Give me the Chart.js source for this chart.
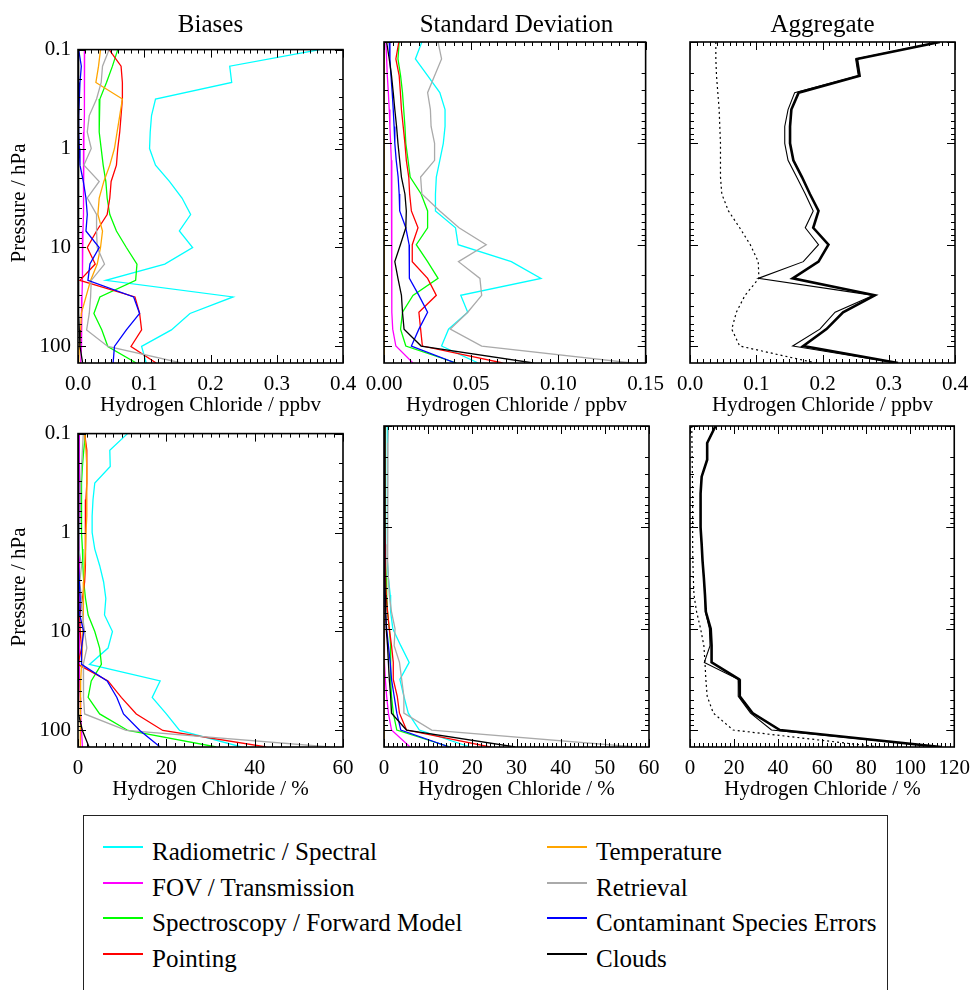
<!DOCTYPE html>
<html>
<head>
<meta charset="utf-8">
<script src="https://cdn.jsdelivr.net/npm/chart.js@4.4.1/dist/chart.umd.min.js"></script>
<style>
  body { margin: 0; background: #fff; width: 972px; height: 990px; position: relative; overflow: hidden;
         font-family: "Liberation Serif", "DejaVu Serif", serif; color: #000; }
  .pane { position: absolute; }
  .txt { position: absolute; white-space: nowrap; line-height: 1; }
  .legend { position: absolute; left: 83px; top: 815px; width: 805px; height: 200px;
            border: 1.5px solid #222; box-sizing: border-box; }
  .swatch { position: absolute; width: 40px; height: 0; border-top: 2px solid; }
</style>
</head>
<body>

<script>
// pressure levels (hPa), top of atmosphere first
const pressure = [0.1, 0.147, 0.215, 0.316, 0.464, 0.681, 1.0, 1.47, 2.15, 3.16,
                  4.64, 6.81, 10.0, 14.7, 21.5, 31.6, 46.4, 68.1, 100, 147];

const sources = ['Radiometric / Spectral', 'FOV / Transmission', 'Spectroscopy / Forward Model', 'Pointing',
                 'Temperature', 'Retrieval', 'Contaminant Species Errors', 'Clouds'];
const colors = ['#00ffff', '#ff00ff', '#00ff00', '#ff0000', '#ffa500', '#aaaaaa', '#0000ff', '#000000'];

// one row per source, same order as `sources`
const biasPpbv = [
  [0.365, 0.229, 0.232, 0.117, 0.111, 0.109, 0.108, 0.117, 0.138, 0.157, 0.170, 0.153, 0.173, 0.131, 0.042, 0.234, 0.169, 0.141, 0.096, 0.103],
  [0.010, 0.010, 0.0098, 0.0095, 0.0093, 0.009, 0.0088, 0.0086, 0.0084, 0.008, 0.0078, 0.0075, 0.007, 0.0067, 0.0063, 0.006, 0.0057, 0.0053, 0.005, 0.004],
  [0.060, 0.052, 0.043, 0.033, 0.032, 0.032, 0.035, 0.038, 0.042, 0.044, 0.048, 0.058, 0.073, 0.089, 0.087, 0.033, 0.024, 0.036, 0.045, 0.088],
  [0.047, 0.065, 0.067, 0.067, 0.065, 0.063, 0.060, 0.058, 0.050, 0.048, 0.044, 0.028, 0.014, 0.026, 0.003, 0.086, 0.093, 0.096, 0.080, 0.118],
  [0.034, 0.031, 0.027, 0.067, 0.063, 0.059, 0.055, 0.048, 0.039, 0.032, 0.030, 0.037, 0.034, 0.029, 0.019, 0.012, 0.005, 0.004, 0.002, 0.001],
  [0.047, 0.037, 0.035, 0.028, 0.017, 0.014, 0.020, 0.009, 0.032, 0.014, 0.028, 0.028, 0.029, 0.040, 0.020, 0.019, 0.017, 0.013, 0.045, 0.156],
  [0.001, 0.005, 0.003, 0.002, 0.001, 0.001, 0.002, 0.003, 0.008, 0.012, 0.014, 0.012, 0.032, 0.018, 0.015, 0.084, 0.093, 0.073, 0.055, 0.053],
  [0.001, 0.001, 0.001, 0.001, 0.001, 0.001, 0.001, 0.001, 0.001, 0.001, 0.001, 0.001, 0.001, 0.001, 0.001, 0.001, 0.001, 0.002, 0.003, 0.007]
];

const sdPpbv = [
  [0.0217, 0.018, 0.025, 0.032, 0.035, 0.035, 0.034, 0.032, 0.030, 0.0295, 0.0295, 0.041, 0.0425, 0.073, 0.090, 0.044, 0.048, 0.037, 0.033, 0.054],
  [0.0011, 0.0015, 0.0019, 0.0025, 0.003, 0.0034, 0.0038, 0.0042, 0.0043, 0.0045, 0.0045, 0.0045, 0.0045, 0.0045, 0.0045, 0.0045, 0.0045, 0.005, 0.0068, 0.0166],
  [0.0087, 0.008, 0.0095, 0.0106, 0.0113, 0.012, 0.0125, 0.0138, 0.015, 0.0213, 0.025, 0.025, 0.0185, 0.025, 0.031, 0.0166, 0.0106, 0.0095, 0.0125, 0.0416],
  [0.0085, 0.0068, 0.0087, 0.0094, 0.010, 0.011, 0.012, 0.0128, 0.0142, 0.0147, 0.0157, 0.0195, 0.0162, 0.0162, 0.025, 0.030, 0.020, 0.021, 0.022, 0.068],
  [0.0002, 0.0002, 0.0002, 0.0002, 0.0002, 0.0002, 0.0002, 0.0002, 0.0002, 0.0002, 0.0002, 0.0002, 0.0002, 0.0002, 0.0002, 0.0002, 0.0002, 0.0002, 0.0002, 0.0002],
  [0.031, 0.033, 0.029, 0.025, 0.0266, 0.027, 0.029, 0.029, 0.021, 0.0217, 0.032, 0.043, 0.0586, 0.0427, 0.055, 0.056, 0.048, 0.038, 0.056, 0.142],
  [0.003, 0.0034, 0.004, 0.0047, 0.0053, 0.0058, 0.0062, 0.007, 0.0081, 0.0087, 0.009, 0.0125, 0.0144, 0.0147, 0.0144, 0.020, 0.025, 0.020, 0.0157, 0.041],
  [0.0015, 0.003, 0.0043, 0.0053, 0.0062, 0.0072, 0.008, 0.009, 0.010, 0.012, 0.0128, 0.0125, 0.0094, 0.0062, 0.008, 0.010, 0.0106, 0.0115, 0.0213, 0.0856]
];

// aggregate: total (thick), second total (thin), dotted
const aggPpbv = [
  [0.377, 0.252, 0.256, 0.164, 0.153, 0.151, 0.151, 0.156, 0.169, 0.181, 0.194, 0.186, 0.209, 0.194, 0.155, 0.279, 0.231, 0.206, 0.171, 0.314],
  [0.377, 0.250, 0.254, 0.158, 0.148, 0.143, 0.143, 0.148, 0.161, 0.174, 0.186, 0.174, 0.194, 0.171, 0.103, 0.277, 0.219, 0.196, 0.155, 0.312],
  [0.039, 0.039, 0.040, 0.042, 0.044, 0.045, 0.046, 0.046, 0.046, 0.048, 0.058, 0.075, 0.091, 0.103, 0.104, 0.083, 0.070, 0.063, 0.075, 0.190]
];

const biasPct = [
  [11.2, 7.2, 7.3, 3.8, 3.4, 3.2, 3.2, 3.8, 4.9, 5.8, 6.3, 6.0, 7.8, 6.8, 2.6, 18.6, 16.8, 20.0, 23.0, 37.0],
  [0.3, 0.3, 0.3, 0.3, 0.3, 0.3, 0.3, 0.3, 0.3, 0.3, 0.3, 0.3, 0.3, 0.3, 0.3, 0.4, 0.5, 0.6, 0.8, 1.0],
  [1.7, 1.3, 1.0, 0.8, 0.8, 0.8, 0.8, 1.0, 1.1, 1.3, 1.7, 2.3, 3.8, 4.9, 5.3, 3.0, 2.3, 4.9, 11.3, 31.3],
  [1.5, 2.0, 2.0, 2.0, 1.8, 1.7, 1.7, 1.7, 1.6, 1.5, 1.0, 0.4, 0.5, 0.8, 0.0, 6.8, 9.8, 13.2, 19.2, 42.6],
  [1.5, 1.8, 2.0, 2.0, 2.0, 2.0, 1.8, 1.7, 1.5, 1.3, 1.2, 1.2, 1.1, 1.0, 0.8, 0.6, 0.5, 0.5, 0.5, 0.6],
  [1.2, 1.0, 0.8, 0.6, 0.5, 0.5, 0.3, 0.2, 0.8, 0.4, 0.8, 1.0, 1.5, 2.0, 1.2, 1.2, 1.3, 1.5, 10.9, 57.0],
  [0.1, 0.1, 0.1, 0.1, 0.1, 0.1, 0.1, 0.1, 0.2, 0.3, 0.5, 0.4, 1.3, 0.8, 0.8, 6.6, 8.8, 10.3, 14.0, 18.6],
  [0.1, 0.1, 0.1, 0.1, 0.1, 0.1, 0.1, 0.1, 0.1, 0.1, 0.1, 0.1, 0.1, 0.1, 0.1, 0.1, 0.1, 0.1, 1.0, 2.5]
];

const sdPct = [
  [0.8, 0.7, 0.7, 0.7, 0.7, 0.7, 0.8, 0.8, 0.9, 1.0, 1.4, 1.5, 2.0, 3.8, 5.7, 3.6, 4.5, 5.5, 8.0, 19.5],
  [0.1, 0.1, 0.1, 0.1, 0.1, 0.1, 0.1, 0.1, 0.1, 0.1, 0.1, 0.1, 0.1, 0.1, 0.1, 0.3, 0.6, 1.0, 1.7, 5.9],
  [0.3, 0.3, 0.3, 0.3, 0.3, 0.3, 0.3, 0.3, 0.4, 0.5, 0.6, 0.8, 1.2, 1.5, 1.5, 1.5, 1.7, 2.1, 2.9, 15.0],
  [0.2, 0.2, 0.2, 0.2, 0.2, 0.2, 0.2, 0.3, 0.3, 0.4, 0.5, 0.8, 1.2, 1.7, 2.1, 2.1, 3.0, 3.5, 5.1, 24.0],
  [0.05, 0.05, 0.05, 0.05, 0.05, 0.05, 0.05, 0.05, 0.05, 0.05, 0.05, 0.05, 0.05, 0.05, 0.05, 0.05, 0.05, 0.05, 0.05, 0.05],
  [1.0, 0.9, 0.9, 0.8, 0.8, 0.8, 0.8, 0.8, 0.9, 1.0, 1.2, 1.7, 2.5, 2.3, 3.5, 4.0, 4.5, 4.5, 10.8, 57.0],
  [0.1, 0.1, 0.1, 0.1, 0.1, 0.1, 0.1, 0.1, 0.1, 0.1, 0.2, 0.3, 0.6, 1.0, 1.4, 1.7, 2.3, 2.9, 3.8, 14.8],
  [0.2, 0.2, 0.2, 0.2, 0.2, 0.2, 0.2, 0.2, 0.2, 0.2, 0.3, 0.4, 0.5, 0.8, 1.0, 1.2, 1.5, 1.7, 5.1, 29.7]
];

const aggPct = [
  [11.6, 7.8, 7.8, 5.3, 4.8, 4.8, 4.8, 5.3, 5.7, 6.3, 6.8, 7.2, 9.4, 9.8, 9.8, 22.3, 22.6, 28.4, 40.8, 114],
  [11.6, 7.8, 7.8, 5.3, 4.8, 4.8, 4.8, 5.3, 5.7, 6.3, 6.8, 7.0, 8.8, 9.1, 6.5, 21.9, 21.9, 27.5, 37.0, 114],
  [0.8, 0.9, 1.0, 1.1, 1.2, 1.2, 1.2, 1.2, 1.3, 1.5, 1.8, 3.0, 4.8, 6.3, 6.8, 7.2, 7.8, 10.6, 19.6, 86]
];

// axis ticks
const yTicks = [0.1, 1, 10, 100];
const yTickLabels = ['0.1', '1', '10', '100'];
const xTicksBiasPpbv = [0, 0.1, 0.2, 0.3, 0.4];
const xTicksSdPpbv = [0, 0.05, 0.10, 0.15];
const xTicksAggPpbv = [0, 0.1, 0.2, 0.3, 0.4];
const xTicksBiasPct = [0, 20, 40, 60];
const xTicksSdPct = [0, 10, 20, 30, 40, 50, 60];
const xTicksAggPct = [0, 20, 40, 60, 80, 100, 120];

const colTitles = ['Biases', 'Standard Deviation', 'Aggregate'];

// ---- layout ----
const colLeft = [78, 384, 690];
const rowTop = [42, 426];
const plotW = 265, plotH = 321;
const padL = 70, padT = 12, padR = 24, padB = 30;
const serif = '"Liberation Serif", "DejaVu Serif", serif';

function addText(str, x, y, size, center) {
  const d = document.createElement('div');
  d.className = 'txt';
  d.textContent = str;
  d.style.fontSize = size + 'px';
  d.style.top = y + 'px';
  if (center) { d.style.left = x + 'px'; d.style.transform = 'translateX(-50%)'; }
  else d.style.left = x + 'px';
  document.body.appendChild(d);
  return d;
}

// inward IDL-style ticks on all four sides plus the box
const idlFrame = {
  id: 'idlFrame',
  afterDatasetsDraw(chart, args, opts) {
    const { ctx, chartArea: a, scales: { x, y } } = chart;
    ctx.save();
    ctx.strokeStyle = '#000';
    ctx.lineWidth = 1;
    ctx.beginPath();
    const n = Math.round((x.max - x.min) / opts.minor);
    for (let k = 0; k <= n; k++) {
      const px = Math.round(x.getPixelForValue(x.min + k * opts.minor)) + 0.5;
      const len = (k % opts.per === 0) ? 8 : 4;
      ctx.moveTo(px, a.bottom); ctx.lineTo(px, a.bottom - len);
      ctx.moveTo(px, a.top); ctx.lineTo(px, a.top + len);
    }
    for (let d = -1; d <= 2; d++) {
      for (let m = 1; m <= 9; m++) {
        const v = m * Math.pow(10, d);
        if (v < y.min - 1e-9 || v > y.max) continue;
        const py = Math.round(y.getPixelForValue(v)) + 0.5;
        const len = m === 1 ? 8 : 4;
        ctx.moveTo(a.left, py); ctx.lineTo(a.left + len, py);
        ctx.moveTo(a.right, py); ctx.lineTo(a.right - len, py);
      }
    }
    ctx.stroke();
    ctx.lineWidth = 1.6;
    ctx.strokeRect(a.left, a.top, a.right - a.left, a.bottom - a.top);
    ctx.restore();
  }
};

function makePanel(row, col, series, xTicks, decimals, minor, aggregate) {
  const div = document.createElement('div');
  div.className = 'pane';
  div.style.left = (colLeft[col] - padL) + 'px';
  div.style.top = (rowTop[row] - padT) + 'px';
  const canvas = document.createElement('canvas');
  canvas.width = padL + plotW + padR;
  canvas.height = padT + plotH + padB;
  div.appendChild(canvas);
  document.body.appendChild(div);

  const aggStyles = [
    { w: 2.6, dash: [] },
    { w: 1.1, dash: [] },
    { w: 1.2, dash: [2, 3] }
  ];
  const datasets = series.map((vals, i) => {
    const st = aggregate ? aggStyles[i] : { w: 1.3, dash: [] };
    return {
      data: pressure.map((p, j) => ({ x: vals[j], y: p })),
      borderColor: aggregate ? '#000' : colors[i],
      borderWidth: st.w,
      borderDash: st.dash,
      showLine: true,
      pointRadius: 0,
      tension: 0,
      order: series.length - i
    };
  });

  const xMax = xTicks[xTicks.length - 1];
  new Chart(canvas, {
    type: 'scatter',
    data: { datasets },
    plugins: [idlFrame],
    options: {
      responsive: false,
      animation: false,
      layout: { padding: { top: padT, right: padR, left: 0, bottom: 0 } },
      plugins: {
        legend: { display: false },
        tooltip: { enabled: false },
        idlFrame: { minor: minor, per: 10 }
      },
      scales: {
        x: {
          type: 'linear', min: 0, max: xMax,
          grid: { display: false, drawTicks: false },
          border: { display: false },
          ticks: {
            color: '#000', font: { family: serif, size: 21 }, padding: 9,
            autoSkip: false, maxRotation: 0,
            callback: (v) => Number(v).toFixed(decimals)
          },
          afterBuildTicks: (s) => { s.ticks = xTicks.map(v => ({ value: v })); },
          afterFit: (s) => { s.height = padB; }
        },
        y: {
          type: 'logarithmic', reverse: true, min: 0.1, max: 147,
          grid: { display: false, drawTicks: false },
          border: { display: false },
          ticks: {
            display: col === 0,
            color: '#000', font: { family: serif, size: 21 }, padding: 7,
            callback: (v) => yTickLabels[yTicks.indexOf(v)] || ''
          },
          afterBuildTicks: (s) => { s.ticks = yTicks.map(v => ({ value: v })); },
          afterFit: (s) => { s.width = padL; }
        }
      }
    }
  });
}

makePanel(0, 0, biasPpbv, xTicksBiasPpbv, 1, 0.01, false);
makePanel(0, 1, sdPpbv, xTicksSdPpbv, 2, 0.005, false);
makePanel(0, 2, aggPpbv, xTicksAggPpbv, 1, 0.01, true);
makePanel(1, 0, biasPct, xTicksBiasPct, 0, 2, false);
makePanel(1, 1, sdPct, xTicksSdPct, 0, 1, false);
makePanel(1, 2, aggPct, xTicksAggPct, 0, 2, true);

// titles and axis labels
colTitles.forEach((t, c) => addText(t, colLeft[c] + plotW / 2, 11, 25, true));
for (let c = 0; c < 3; c++) {
  addText('Hydrogen Chloride / ppbv', colLeft[c] + plotW / 2, 394, 21, true);
  addText('Hydrogen Chloride / %', colLeft[c] + plotW / 2, 778, 21, true);
}
for (let r = 0; r < 2; r++) {
  const d = addText('Pressure / hPa', 18, rowTop[r] + plotH / 2, 21, false);
  d.style.transform = 'translate(-50%, -50%) rotate(-90deg)';
}

// legend box
const leg = document.createElement('div');
leg.className = 'legend';
document.body.appendChild(leg);
const rowY = [847, 883, 918, 954];
sources.forEach((name, i) => {
  const colX = i < 4 ? 103 : 547;
  const y = rowY[i % 4];
  const sw = document.createElement('div');
  sw.className = 'swatch';
  sw.style.left = colX + 'px';
  sw.style.top = (y - 1) + 'px';
  sw.style.borderTopColor = colors[i];
  document.body.appendChild(sw);
  addText(name, colX + 49, y - 8, 25, false);
});
</script>
</body>
</html>
